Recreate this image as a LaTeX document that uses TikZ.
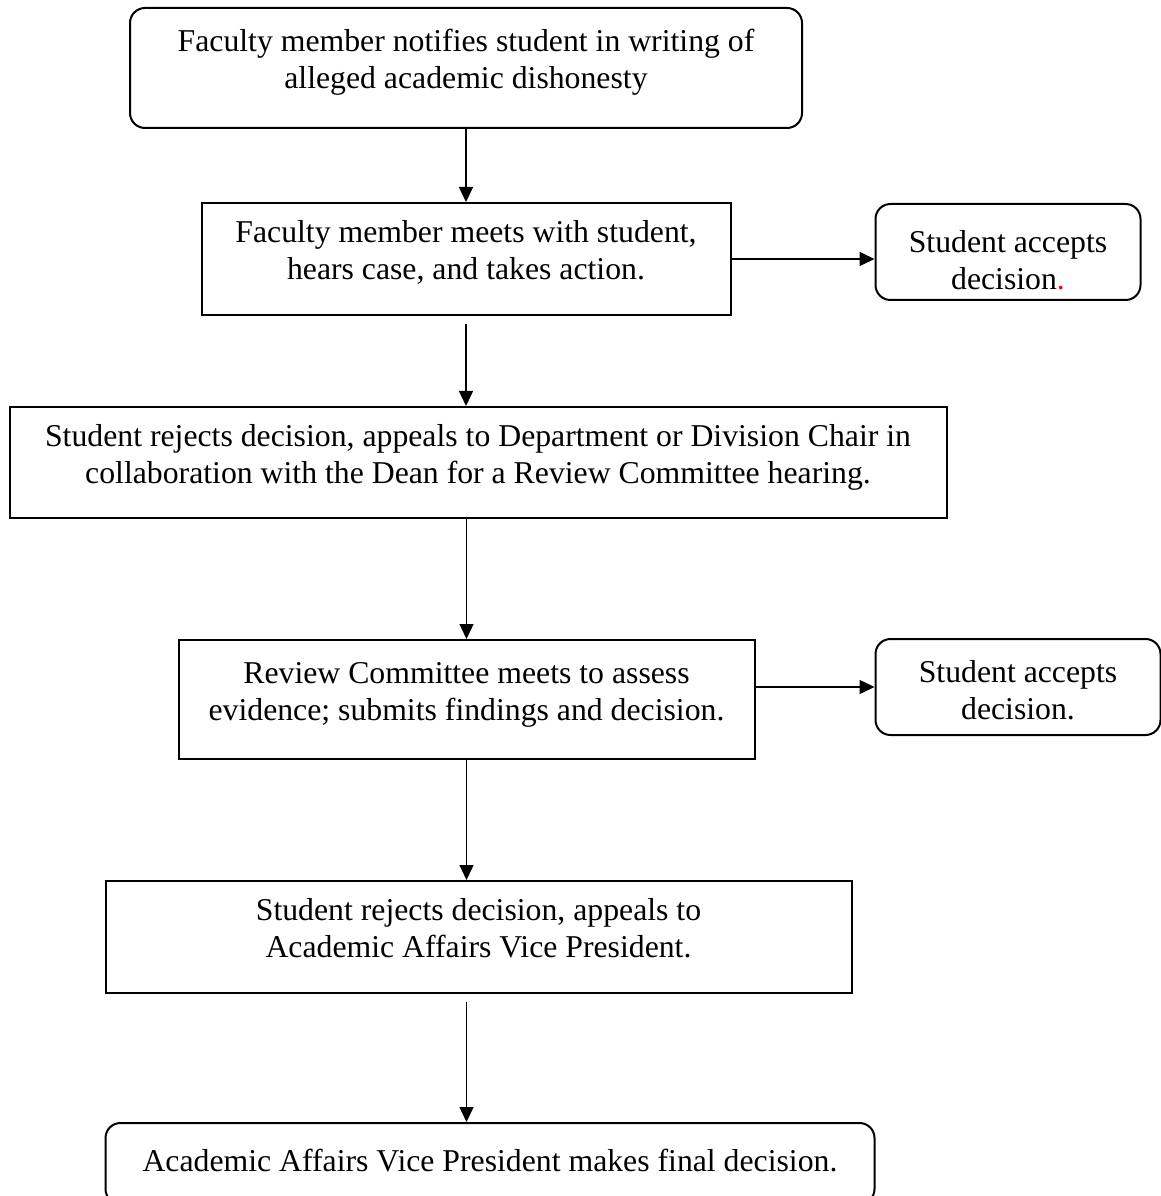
\documentclass[tikz,border=0pt]{standalone}
\usepackage{fontspec}
\setmainfont{Liberation Serif}[Ligatures=NoCommon]
\usetikzlibrary{positioning,arrows.meta}

\begin{document}
\begin{tikzpicture}[>={Triangle[length=6pt,width=5.6pt]}, line width=0.8pt,
    font=\fontsize{12.7pt}{14.7pt}\selectfont,
    stage/.style={draw, align=center, inner sep=0pt, text height=24pt, text depth=7.6pt},
    outcome/.style={stage, rounded corners=6pt},
    link/.style={->, line width=0.55pt}]
  \useasboundingbox (0,0) rectangle (464pt,-478.4pt);
  \node (notify) [outcome, minimum width=268.8pt, minimum height=48pt]
    at (186.4pt,-27.2pt)
    {Faculty member notifies student in writing of\\alleged academic dishonesty};
  \node (meet) [stage, minimum width=211.6pt, minimum height=44.8pt,
                below=29.2pt of notify]
    {Faculty member meets with student,\\hears case, and takes action.};
  \node (acc1) [outcome, minimum width=106pt, minimum height=38.4pt,
                text height=32pt, text depth=1.8pt,
                right=57.2pt of meet, yshift=2.8pt]
    {Student accepts\\decision\textcolor{red}{.}};
  \node (chair) [stage, minimum width=374.8pt, minimum height=44.4pt,
                 below=36pt of meet, xshift=4.8pt]
    {Student rejects decision, appeals to Department or Division Chair in\\collaboration with the Dean for a Review Committee hearing.};
  \node (review) [stage, minimum width=230.4pt, minimum height=47.6pt,
                  below=48pt of chair, xshift=-4.6pt]
    {Review Committee meets to assess\\evidence; submits findings and decision.};
  \node (acc2) [outcome, minimum width=114pt, minimum height=38.4pt,
                text height=28pt, text depth=2.2pt,
                right=47.6pt of review, yshift=5pt]
    {Student accepts\\decision.};
  \node (vp) [stage, minimum width=298.4pt, minimum height=44.8pt,
              below=48pt of review, xshift=4.8pt]
    {Student rejects decision, appeals to\\Academic Affairs Vice President.};
  \node (final) [outcome, minimum width=307.6pt, minimum height=32.4pt,
                 text height=8pt, text depth=1.5pt,
                 below=51.2pt of vp, xshift=4.6pt]
    {Academic Affairs Vice President makes final decision.};
  \draw[link] (notify) -- (meet);
  \draw[link] (meet.east) -- (meet.east -| acc1.west);
  \draw[link, shorten <=3.2pt] (meet) -- (meet |- chair.north);
  \draw[link] (chair.south -| review) -- (review);
  \draw[link] (acc2.west -| review.east) -- (acc2);
  \draw[link] (review) -- (review |- vp.north);
  \draw[link, shorten <=3.2pt] (review |- vp.south) -- (review |- final.north);
\end{tikzpicture}
\end{document}
